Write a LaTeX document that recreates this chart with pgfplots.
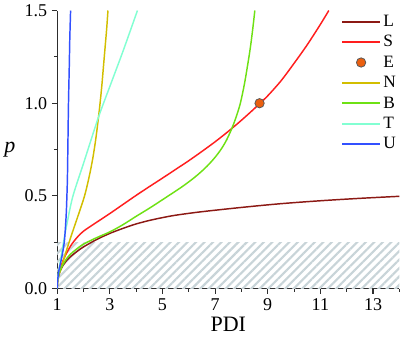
\documentclass[border=0pt]{standalone}
\usepackage{fontspec}
\setmainfont{Liberation Serif}
\usepackage{pgfplots}
\pgfplotsset{compat=1.18}
\usetikzlibrary{patterns.meta}
\definecolor{cL}{RGB}{140,25,20}
\definecolor{cS}{RGB}{255,30,30}
\definecolor{cE}{RGB}{235,95,15}
\definecolor{cN}{RGB}{210,190,0}
\definecolor{cB}{RGB}{110,225,20}
\definecolor{cT}{RGB}{130,255,210}
\definecolor{cU}{RGB}{50,80,255}
\definecolor{hatchc}{RGB}{200,212,216}
\definecolor{axc}{RGB}{45,45,45}
\pgfplotsset{
  lineleg/.style={legend image code/.code={\draw[##1, line width=1.5pt] (0pt,0pt) -- (28pt,0pt);}},
  markleg/.style={legend image code/.code={\draw[mark repeat=2,mark phase=2,##1] plot coordinates {(0pt,0pt) (14pt,0pt) (28pt,0pt)};}},
}
\begin{document}
\begin{tikzpicture}
\begin{axis}[
  scale only axis, width=256.5pt, height=208.5pt,
  xmin=1, xmax=14, ymin=0, ymax=1.5,
  axis lines*=left,
  axis line style={axc, line width=1pt},
  xtick={1,3,5,7,9,11,13}, xticklabels={1,3,5,7,9,11,13},
  minor xtick={2,4,...,14},
  ytick={0,0.5,1,1.5}, yticklabels={0.0,0.5,1.0,1.5},
  minor ytick={0.25,0.75,1.25},
  tick align=outside, major tick length=4pt, minor tick length=2.5pt,
  every tick/.style={axc, line width=0.8pt},
  ticklabel style={font=\rmfamily\fontsize{13.5}{14}\selectfont},
  xlabel={PDI}, ylabel={\textit{p}},
  label style={font=\rmfamily\fontsize{16.5}{18}\selectfont},
  xlabel style={yshift=2pt},
  ylabel style={rotate=-90},
  legend style={draw=none, fill=none, at={(0.83,0.995)}, anchor=north west,
    font=\rmfamily\fontsize{13}{13}\selectfont, row sep=1.3pt, inner sep=0pt},
  legend cell align=left,
  lineleg,
  every axis plot/.append style={line width=1.1pt},
]
\addplot[draw=none, forget plot, pattern={Lines[angle=45,distance=4.5pt,line width=1.6pt]}, pattern color=hatchc]
  coordinates {(1,0.25) (14,0.25)} \closedcycle;

\addplot[cL, smooth] coordinates {(1,0) (1.01,0.03) (1.04,0.06) (1.1,0.09) (1.2,0.12) (1.35,0.15) (1.5,0.172) (1.75,0.2) (2,0.225) (2.5,0.265) (3,0.298) (3.5,0.325) (4,0.349) (4.54,0.369) (5,0.383) (5.5,0.396) (6.44,0.414) (8,0.438) (9.48,0.458) (11,0.474) (12.5,0.487) (14,0.498)};
\addlegendentry{L}
\addplot[cS, smooth] coordinates {(1,0) (1.01,0.035) (1.04,0.07) (1.1,0.1) (1.25,0.16) (1.5,0.228) (1.75,0.275) (2,0.31) (2.5,0.358) (3,0.405) (3.5,0.454) (4,0.503) (4.5,0.55) (5,0.596) (5.5,0.643) (6,0.69) (6.5,0.74) (7,0.792) (7.5,0.848) (8,0.908) (8.5,0.972) (8.69,0.998) (9,1.04) (9.5,1.12) (10,1.215) (10.5,1.315) (11,1.425) (11.32,1.5)};
\addlegendentry{S}
\addplot[only marks, mark=*, mark size=3.5pt, draw=black!65, fill=cE, line width=0.6pt, markleg]
  coordinates {(8.69,1.0)};
\addlegendentry{E}
\addplot[cN, smooth] coordinates {(1,0) (1.01,0.03) (1.05,0.07) (1.13,0.1) (1.34,0.2) (1.57,0.3) (1.81,0.4) (2.04,0.5) (2.21,0.6) (2.35,0.7) (2.46,0.8) (2.55,0.9) (2.63,1.0) (2.7,1.1) (2.76,1.2) (2.82,1.3) (2.88,1.4) (2.93,1.5)};
\addlegendentry{N}
\addplot[cB, smooth] coordinates {(1,0) (1.01,0.035) (1.04,0.065) (1.1,0.095) (1.2,0.125) (1.35,0.16) (1.5,0.185) (1.75,0.215) (2,0.24) (2.5,0.275) (3,0.306) (3.5,0.345) (4,0.39) (4.54,0.437) (5.22,0.5) (5.75,0.55) (6.22,0.6) (6.62,0.65) (6.95,0.7) (7.22,0.75) (7.43,0.8) (7.64,0.865) (7.81,0.93) (7.96,1.0) (8.11,1.1) (8.23,1.2) (8.34,1.3) (8.43,1.4) (8.51,1.5)};
\addlegendentry{B}
\addplot[cT, smooth] coordinates {(1,0) (1.01,0.04) (1.04,0.08) (1.1,0.13) (1.24,0.25) (1.4,0.37) (1.6,0.5) (2,0.675) (2.57,0.925) (3.04,1.105) (3.5,1.28) (4.05,1.5)};
\addlegendentry{T}
\addplot[cU, smooth] coordinates {(1,0) (1.02,0.05) (1.07,0.1) (1.16,0.16) (1.27,0.25) (1.34,0.39) (1.37,0.5) (1.39,0.6) (1.41,0.8) (1.43,1.0) (1.46,1.2) (1.48,1.35) (1.51,1.5)};
\addlegendentry{U}
\end{axis}
\end{tikzpicture}
\end{document}
